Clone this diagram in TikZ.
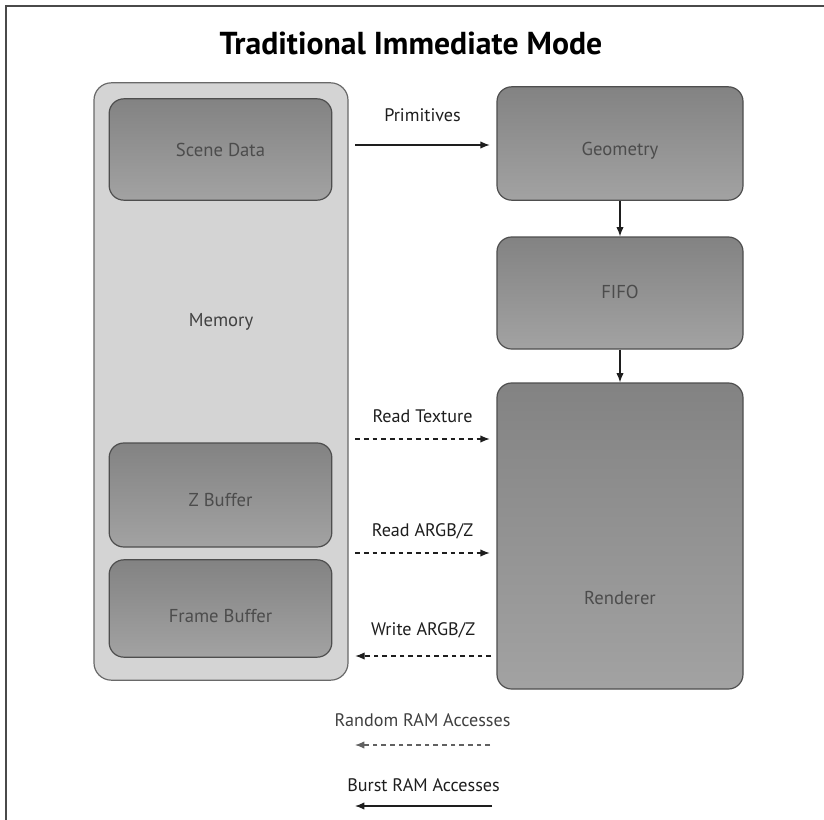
\documentclass[tikz,border=0pt]{standalone}
\usepackage{fontspec}
\setmainfont{PT Sans}
\usetikzlibrary{arrows.meta,positioning}
\definecolor{marco}{HTML}{4A4A4A}
\definecolor{cajafondo}{HTML}{8E8E8E}
\definecolor{cajaborde}{HTML}{4E4E4E}
\definecolor{memfondo}{HTML}{D4D4D4}
\definecolor{texto}{HTML}{1E1E1E}
\definecolor{textocaja}{HTML}{4C4C4C}
\tikzset{
  bloque/.style={rectangle,rounded corners=11,draw=cajaborde,line width=0.9pt,
    top color=cajafondo!92!black,bottom color=cajafondo!82!white,
    minimum width=167pt,inner sep=0pt},
  cajatxt/.style={font=\fontsize{14}{16}\selectfont,text=textocaja,inner sep=1pt},
  memoria/.style={rectangle,rounded corners=13,draw=cajaborde!85,line width=0.9pt,fill=memfondo,
    minimum width=190.5pt,minimum height=448pt,inner sep=0pt},
  etiqueta/.style={font=\fontsize{13.6}{15}\selectfont,text=texto,inner sep=1pt},
  flujo/.style={-{Latex[length=7pt,width=5.5pt]},draw=texto,line width=0.9pt},
  flujodash/.style={flujo,dash pattern=on 3.5pt off 3pt},
}
\begin{document}
\begin{tikzpicture}[x=0.75pt,y=-0.75pt]
  \useasboundingbox (0,0) rectangle (824,820);
  \fill[white] (0,0) rectangle (824,820);
  % marco del escaneo
  \draw[marco,line width=1.4pt] (6,820) -- (6,6) -- (824,6);
  \node[font=\bfseries\fontsize{23.8}{28}\selectfont,text=black] (titulo) at (411,43) {Traditional Immediate Mode};
  % memoria y sus bloques
  \node[memoria] (memory) at (221,381.5) {};
  \node[cajatxt,text=textocaja!85!black] (memtxt) at (221,322) {Memory};
  \node[bloque,minimum height=76pt] (scene) at (220.5,149.5) {};
  \node[bloque,minimum height=78pt] (zbuf) at (220.5,495) {};
  \node[bloque,minimum height=73pt] (fbuf) at (220.5,608.5) {};
  \node[cajatxt] (scenetxt) at (220.5,150) {Scene Data};
  \node[cajatxt] (zbuftxt) at (220.5,500) {Z Buffer};
  \node[cajatxt] (fbuftxt) at (220.5,616) {Frame Buffer};
  % pipeline
  \node[bloque,minimum width=184.5pt,minimum height=85pt] (geom) at (620,143.5) {};
  \node[bloque,minimum width=184.5pt,minimum height=84pt] (fifo) at (620,293) {};
  \node[bloque,minimum width=184.5pt,minimum height=229.5pt] (render) at (620,536) {};
  \node[cajatxt] (geomtxt) at (620,151) {Geometry};
  \node[cajatxt] (fifotxt) at (620,292) {FIFO};
  \node[cajatxt] (rendertxt) at (620,598) {Renderer};
  \draw[flujo] (geom) -- (fifo);
  \draw[flujo] (fifo) -- (render);
  % accesos
  \draw[flujo] ([xshift=5]memory.east |- 0,145) -- node[etiqueta,yshift=22pt] (prim) {Primitives} ([xshift=-5]geom.west |- 0,145);
  \draw[flujodash] ([xshift=5]memory.east |- 0,439) -- node[etiqueta,yshift=17pt] (rtex) {Read Texture} ([xshift=-5]render.west |- 0,439);
  \draw[flujodash] ([xshift=5]memory.east |- 0,553) -- node[etiqueta,yshift=16.5pt] (rargb) {Read ARGB/Z} ([xshift=-5]render.west |- 0,553);
  \draw[flujodash] ([xshift=-4]render.west |- 0,656) -- node[etiqueta,yshift=19.5pt] (wargb) {Write ARGB/Z} ([xshift=5]memory.east |- 0,656);
  % leyenda
  \coordinate (rndA) at (490,745);
  \coordinate (rndB) at (355,745);
  \coordinate (burA) at (492,806);
  \coordinate (burB) at (355,806);
  \draw[flujodash,draw=texto!70] (rndA) -- node[etiqueta,yshift=19pt,text=texto!85] (rnd) {Random RAM Accesses} (rndB);
  \draw[flujo] (burA) -- node[etiqueta,yshift=16pt] (bur) {Burst RAM Accesses} (burB);
\end{tikzpicture}
\end{document}
